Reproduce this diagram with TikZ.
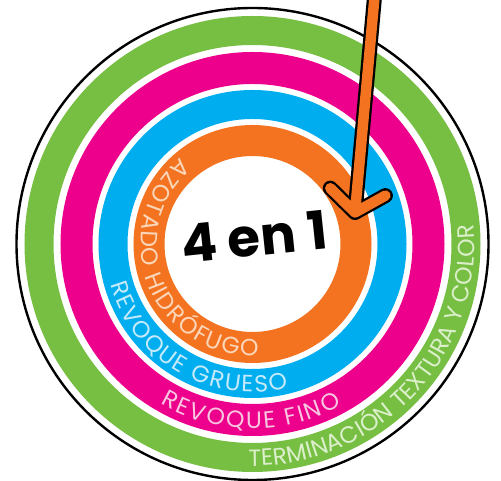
\documentclass[tikz,border=0pt]{standalone}
\usepackage{fontspec}
\setmainfont{Poppins}
\newfontfamily\ringfont{Poppins}
\usetikzlibrary{decorations.text,calc}
\definecolor{rgreen}{HTML}{76BF43}
\definecolor{rpink}{HTML}{EC008C}
\definecolor{rblue}{HTML}{00AEEF}
\definecolor{rorange}{HTML}{F37321}
\definecolor{tgreen}{HTML}{DCEFCB}
\definecolor{tpink}{HTML}{F9C6E0}
\definecolor{tblue}{HTML}{C4EAFB}
\definecolor{torange}{HTML}{FBD6B9}
\tikzset{
  ringlabel/.style 2 args={decorate, decoration={text along path, text align={fit to path},
     text={|\ringfont\fontsize{23.5}{23.5}\selectfont\color{#1}|#2}}},
  arrowout/.style={draw=black, line width=15pt, line cap=round, line join=round},
  arrowin/.style={draw=rorange, line width=10.5pt, line cap=round, line join=round}
}
\begin{document}
\begin{tikzpicture}[x=1pt,y=1pt]
\useasboundingbox (0,0) rectangle (501,481);
\fill[white] (0,0) rectangle (501,481);
\coordinate (C) at (252.5,237);
% rings
\draw[black, line width=2.4pt] (C) circle (236pt);
\draw[rgreen, line width=29pt] (C) circle (213.5pt);
\draw[rpink, line width=32pt] (C) circle (176pt);
\draw[rblue, line width=29pt] (C) circle (139.5pt);
\draw[rorange, line width=31pt] (C) circle (103.5pt);
% ring labels
\path[ringlabel={tgreen}{TERMINACIÓN TEXTURA Y COLOR}] ($(C)+(269:222pt)$) arc[start angle=269, end angle=365, radius=222pt];
\path[ringlabel={tpink}{REVOQUE FINO}] ($(C)+(240:184.5pt)$) arc[start angle=240, end angle=299, radius=184.5pt];
\path[ringlabel={tblue}{REVOQUE GRUESO}] ($(C)+(196:148pt)$) arc[start angle=196, end angle=284, radius=148pt];
\path[ringlabel={torange}{AZOTADO HIDRÓFUGO}] ($(C)+(130:112pt)$) arc[start angle=130, end angle=273, radius=112pt];
% centre text
\node[font=\fontsize{53}{53}\selectfont\bfseries, rotate=6, inner sep=0pt] (title) at (254,244) {4 en 1};
% arrow
\coordinate (atop) at (375.5,495);
\coordinate (atip) at (355,268.5);
\coordinate (aleft) at (330.3,292.8);
\coordinate (aright) at (385.4,285.4);
\path[arrowout] (atop) -- (atip) (aleft) -- (atip) -- (aright);
\path[arrowin] (atop) -- (atip) (aleft) -- (atip) -- (aright);
\end{tikzpicture}
\end{document}
